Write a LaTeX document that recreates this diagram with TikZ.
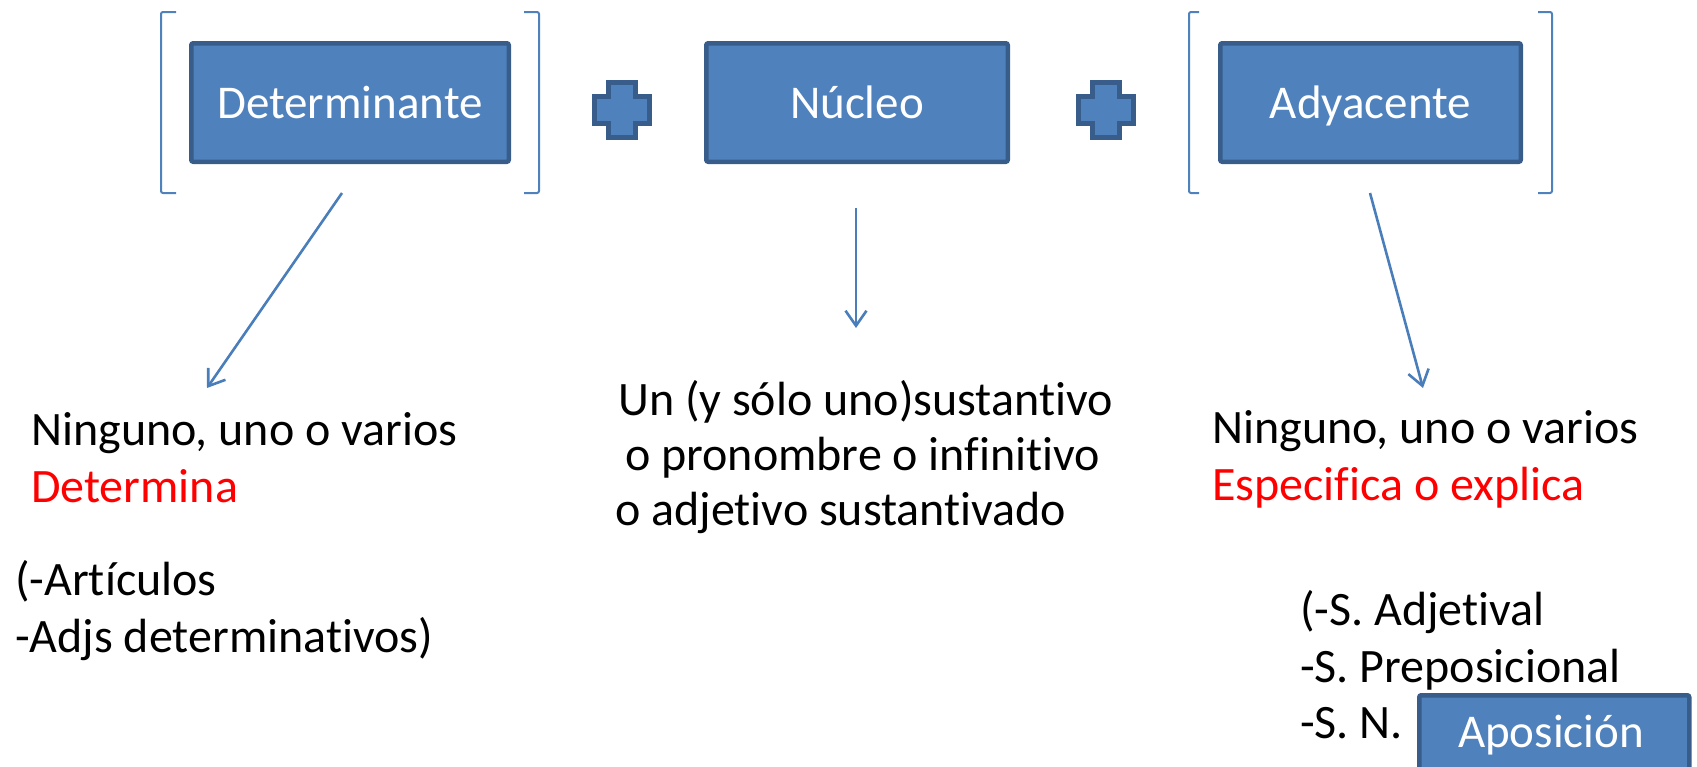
\documentclass[tikz,border=0pt]{standalone}
\usepackage{fontspec}
\setmainfont{Carlito}[Ligatures=NoCommon]
\usetikzlibrary{arrows.meta}
\definecolor{boxfill}{HTML}{4F81BD}
\definecolor{boxline}{HTML}{385D8A}
\definecolor{arrcol}{HTML}{4A7EBB}
\definecolor{txtred}{HTML}{FF0000}
\tikzset{
  bluebox/.style={draw=boxline, fill=boxfill, line width=4.5pt, rounded corners=2pt,
    text=white, font=\fontsize{47}{56}\selectfont, inner sep=0pt, anchor=center,
    text height=40pt, text depth=9pt},
  plusshape/.style={draw=boxline, fill=boxfill, line width=5pt},
  brack/.style={draw=boxfill, line width=2pt, rounded corners=2pt},
  conn/.style={draw=arrcol, line width=2.6pt, -{Straight Barb[length=15pt,width=21pt,line width=2.6pt]}},
  plaintext/.style={font=\fontsize{48}{56}\selectfont, inner sep=0pt, anchor=base west},
}
\begin{document}
\begin{tikzpicture}[x=1pt,y=-1pt]
\useasboundingbox (0,0) rectangle (1697,766);
% boxes
\node[bluebox, minimum width=317.5pt, minimum height=118.5pt] (det) at (350,102.5) {Determinante};
\node[bluebox, minimum width=301.5pt, minimum height=118.5pt] (nuc) at (857,102.5) {Núcleo};
\node[bluebox, minimum width=300.5pt, minimum height=118.5pt] (ady) at (1370.5,102.5) {Adyacente};
% plus signs
\foreach \cx in {622,1106}{
  \draw[plusshape] (\cx-13.5,110-27.5) -- (\cx+13.5,110-27.5) -- (\cx+13.5,110-13.5) -- (\cx+27.5,110-13.5)
    -- (\cx+27.5,110+13.5) -- (\cx+13.5,110+13.5) -- (\cx+13.5,110+27.5) -- (\cx-13.5,110+27.5)
    -- (\cx-13.5,110+13.5) -- (\cx-27.5,110+13.5) -- (\cx-27.5,110-13.5) -- (\cx-13.5,110-13.5) -- cycle;
}
% brackets
\draw[brack] (176,12) -- (161,12) -- (161,193) -- (176,193);
\draw[brack] (524,12) -- (539,12) -- (539,193) -- (524,193);
\draw[brack] (1199,12) -- (1189,12) -- (1189,193) -- (1199,193);
\draw[brack] (1538,12) -- (1552,12) -- (1552,193) -- (1538,193);
% arrow coordinates
\coordinate (a1s) at (342,193);
\coordinate (a1e) at (207,388);
\coordinate (a2s) at (856,208);
\coordinate (a2e) at (856,328);
\coordinate (a3s) at (1370,193);
\coordinate (a3e) at (1423,388);
\draw[conn] (a1s) -- (a1e);
\draw[conn] (a2s) -- (a2e);
\draw[conn] (a3s) -- (a3e);
% left texts
\node[plaintext] (l1) at (31,445) {Ninguno, uno o varios};
\node[plaintext, text=txtred] (l2) at (31,502) {Determina};
\node[plaintext] (l3) at (15,595) {(-Artículos};
\node[plaintext] (l4) at (15,652) {-Adjs determinativos)};
% middle texts
\node[plaintext] (m1) at (618,415) {Un (y sólo uno)sustantivo};
\node[plaintext] (m2) at (625,470) {o pronombre o infinitivo};
\node[plaintext] (m3) at (615,525) {o adjetivo sustantivado};
% right texts
\node[plaintext] (r1) at (1212,443) {Ninguno, uno o varios};
\node[plaintext, text=txtred] (r2) at (1212,500) {Especifica o explica};
\node[plaintext] (r3) at (1300,625) {(-S. Adjetival};
\node[plaintext] (r4) at (1300,682) {-S. Preposicional};
\node[plaintext] (r5) at (1300,738) {-S. N.};
% aposicion box
\node[bluebox, minimum width=270pt, minimum height=100pt, anchor=north west] (apo) at (1417,693) {};
\node[font=\fontsize{47}{56}\selectfont, text=white, inner sep=0pt, anchor=base] (apot) at (1551,747) {Aposición};
\end{tikzpicture}
\end{document}
